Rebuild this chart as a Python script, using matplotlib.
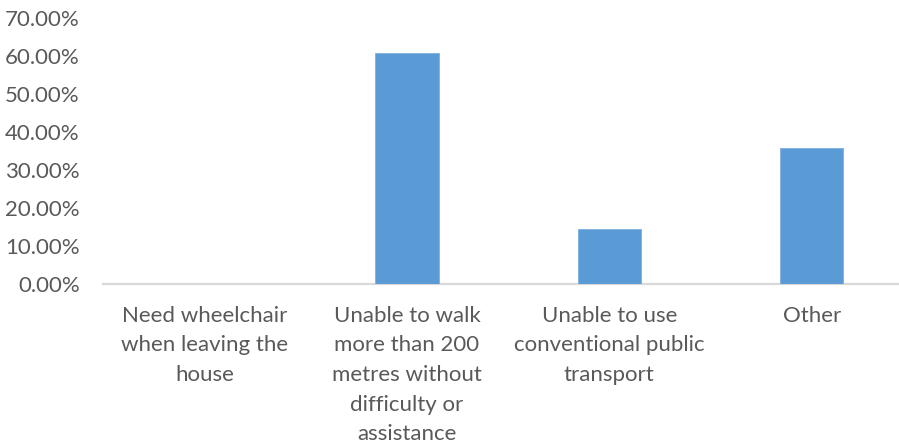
import matplotlib
matplotlib.use("Agg")
import matplotlib.pyplot as plt
from matplotlib.ticker import FuncFormatter

categories = [
    "Need wheelchair\nwhen leaving the\nhouse",
    "Unable to walk\nmore than 200\nmetres without\ndifficulty or\nassistance",
    "Unable to use\nconventional public\ntransport",
    "Other",
]
values = [0.0, 60.71, 14.29, 35.71]
yticks = [0, 10, 20, 30, 40, 50, 60, 70]

W, H = 899, 443
fig = plt.figure(figsize=(W / 100, H / 100), dpi=100)
plt.rcParams['font.family'] = ['Lato', 'DejaVu Sans']

left_px, right_px = 103.5, 912.8
base_px, top_px = 283.5, 18.0
ax = fig.add_axes([left_px / W, (H - base_px) / H, (right_px - left_px) / W, (base_px - top_px) / H])

x = list(range(len(categories)))
ax.bar(x, values, width=0.313, color="#5b9bd5", edgecolor="#7fb0e0", linewidth=0.6, zorder=3)
ax.set_xlim(-0.5, len(categories) - 0.5)
ax.set_ylim(0, 70)
ax.set_yticks(yticks)
ax.yaxis.set_major_formatter(FuncFormatter(lambda v, p: f"{v:.2f}%"))
ax.set_xticks(x)
ax.set_xticklabels(categories, linespacing=1.6)

for s in ["top", "right", "left"]:
    ax.spines[s].set_visible(False)
ax.spines["bottom"].set_color("#d9d9d9")
ax.spines["bottom"].set_linewidth(1.6)
ax.tick_params(axis="both", length=0, colors="#595959", labelsize=16)
ax.tick_params(axis="y", pad=17)
ax.tick_params(axis="x", pad=16)
for lbl in ax.get_xticklabels():
    lbl.set_verticalalignment("top")

fig.savefig("out.png", dpi=100)
